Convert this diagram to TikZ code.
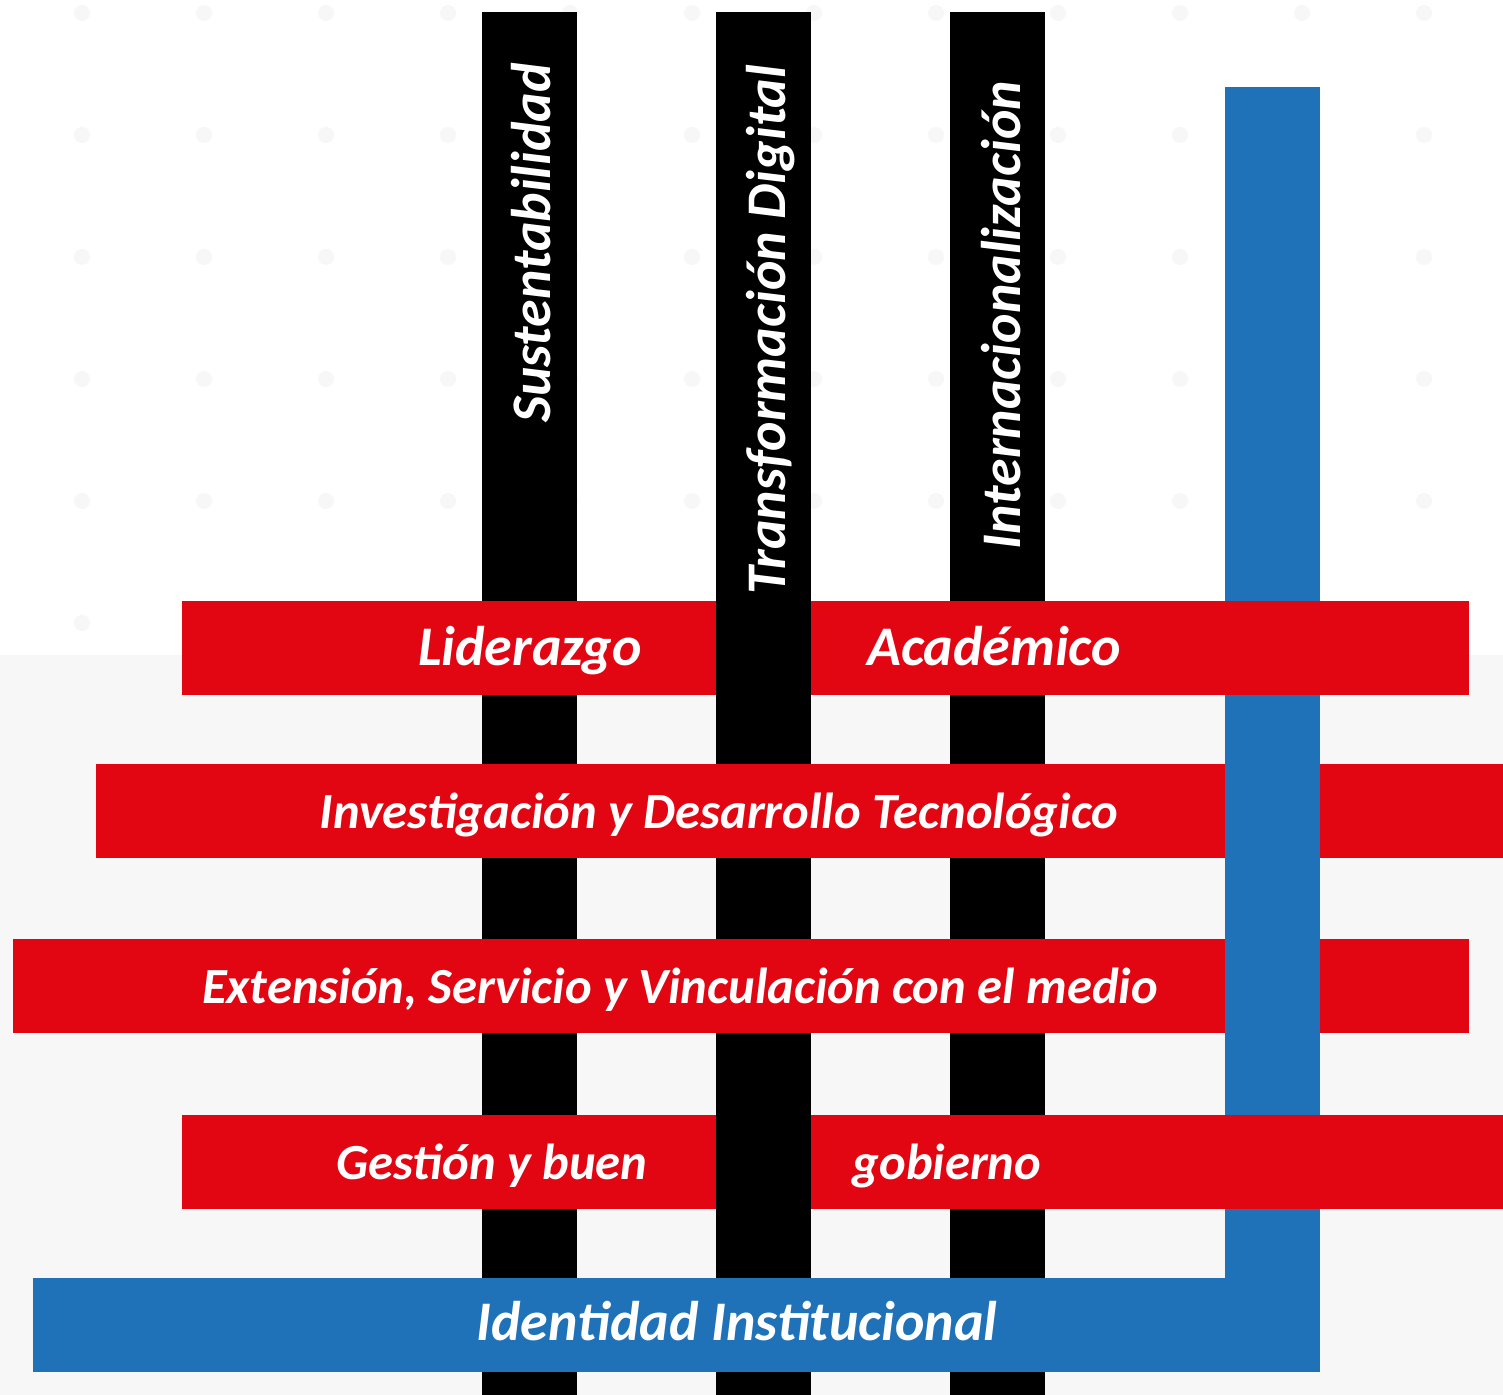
\documentclass[tikz,border=0pt]{standalone}
\usepackage{fontspec}
\setmainfont{Carlito}
\definecolor{ejered}{RGB}{226,6,19}
\definecolor{ejeblue}{RGB}{31,113,184}
\definecolor{paper}{RGB}{247,247,247}

\begin{document}
\begin{tikzpicture}[x=0.01cm,y=-0.01cm,
    ejetext/.style={text=white,inner sep=0pt,anchor=base,font=\fontsize{14.4}{16}\selectfont\bfseries\itshape},
    ejebig/.style={ejetext,font=\fontsize{15.9}{18}\selectfont\bfseries\itshape}]
  \useasboundingbox (0,0) rectangle (1503,1395);
  % fondo
  \fill[white] (0,0) rectangle (1503,1395);
  \fill[paper] (0,655) rectangle (1503,1395);
  \foreach \i in {0,...,11}
    \foreach \j in {0,...,11}
      \fill[black!3] (82+122*\i,13+122*\j) circle (8);

  % ejes transversales (negro)
  \fill[black] (482,12) rectangle (577,1395);
  \fill[black] (716,12) rectangle (811,1395);
  \fill[black] (950,12) rectangle (1045,1395);

  % ejes rojos bajo el azul
  \fill[ejered] (96,764) rectangle (1503,858);
  \fill[ejered] (13,939) rectangle (1469,1033);

  % eje azul
  \fill[ejeblue] (1225,87) rectangle (1320,1372);

  % ejes rojos sobre el azul
  \fill[ejered] (182,601) rectangle (716,695);
  \fill[ejered] (811,601) rectangle (1469,695);
  \fill[ejered] (182,1115) rectangle (716,1209);
  \fill[ejered] (811,1115) rectangle (1503,1209);
  \fill[ejeblue] (33,1278) rectangle (1320,1372);

  % textos
  \node[ejebig,rotate=90] (sust) at (550,243) {Sustentabilidad};
  \node[ejebig,rotate=90] (transf) at (785,330) {Transformación Digital};
  \node[ejebig,rotate=90] (inter) at (1020,315) {Internacionalización};
  \node[ejebig] (lider) at (530,666) {Liderazgo};
  \node[ejebig] (acad) at (994,666) {Académico};
  \node[ejetext] (inves) at (719,829) {Investigación y Desarrollo Tecnológico};
  \node[ejetext] (exten) at (680,1004) {Extensión, Servicio y Vinculación con el medio};
  \node[ejetext] (gest) at (492,1179) {Gestión y buen};
  \node[ejetext] (gob) at (947,1179) {gobierno};
  \node[ejebig] (ident) at (737,1340) {Identidad Institucional};
\end{tikzpicture}
\end{document}
